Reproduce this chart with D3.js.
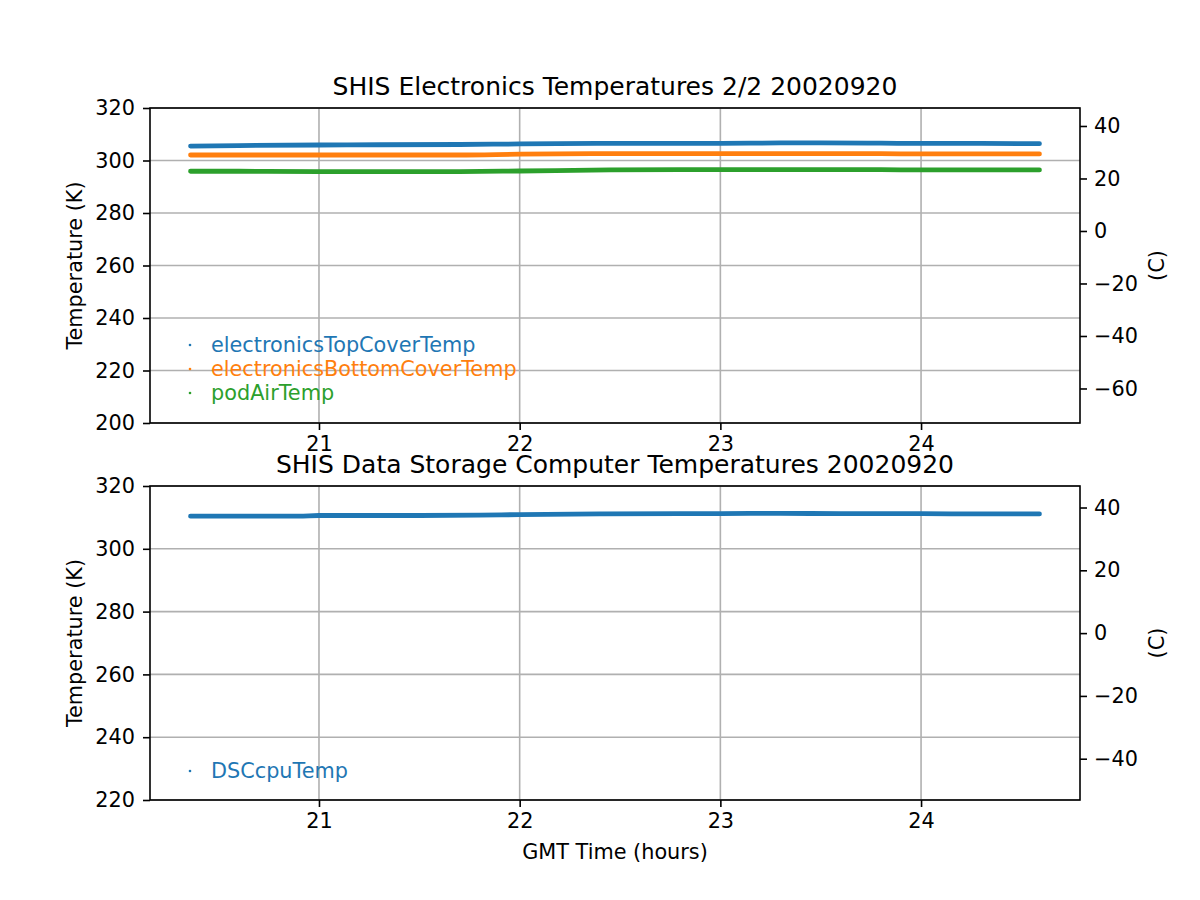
<!DOCTYPE html>
<html><head><meta charset="utf-8">
<script src="https://d3js.org/d3.v7.min.js"></script>
<style>body{margin:0;background:#fff}svg{display:block}text{font-family:"DejaVu Sans",sans-serif}</style>
</head><body>
<svg id="c" width="1200" height="900"></svg>
<script>
// ---- data ----
const topTitle = "SHIS Electronics Temperatures 2/2 20020920";
const botTitle = "SHIS Data Storage Computer Temperatures 20020920";
const xTicks = [21, 22, 23, 24];
const topKTicks = [200, 220, 240, 260, 280, 300, 320];
const topCTicks = [-60, -40, -20, 0, 20, 40];
const botKTicks = [220, 240, 260, 280, 300, 320];
const botCTicks = [-40, -20, 0, 20, 40];
const hours = [20.36, 20.6, 21.0, 21.3, 21.7, 22.0, 22.45, 22.8, 23.0, 23.3, 23.5, 23.8, 24.0, 24.3, 24.59];
const topCover    = [305.5, 305.7, 305.9, 306.0, 306.1, 306.3, 306.5, 306.5, 306.5, 306.7, 306.7, 306.6, 306.5, 306.5, 306.4];
const bottomCover = [302.1, 302.1, 302.1, 302.1, 302.1, 302.4, 302.6, 302.6, 302.6, 302.6, 302.6, 302.6, 302.5, 302.5, 302.5];
const podAir      = [295.9, 295.9, 295.8, 295.8, 295.8, 296.0, 296.4, 296.5, 296.5, 296.5, 296.5, 296.5, 296.4, 296.4, 296.4];
const dscHours = [20.36, 20.6, 20.9, 21.0, 21.5, 21.8, 22.0, 22.4, 22.8, 23.0, 23.3, 23.6, 24.0, 24.3, 24.59];
const dscCpu   = [310.4, 310.4, 310.4, 310.6, 310.6, 310.7, 310.9, 311.1, 311.2, 311.2, 311.3, 311.2, 311.2, 311.1, 311.1];
const topSeries = [
  {name: "electronicsTopCoverTemp", color: "#1f77b4", x: hours, y: topCover},
  {name: "electronicsBottomCoverTemp", color: "#ff7f0e", x: hours, y: bottomCover},
  {name: "podAirTemp", color: "#2ca02c", x: hours, y: podAir}
];
const botSeries = [
  {name: "DSCcpuTemp", color: "#1f77b4", x: dscHours, y: dscCpu}
];

const FS = 20.8;
const svg = d3.select("#c");
const L = 150, R = 1080;
const x = d3.scaleLinear().domain([20.158, 24.792]).range([L, R]);
const fmt = d => d < 0 ? "\u2212" + Math.abs(d) : String(d);

function panel(top, bottom, kDom, kTicks, cTicks, series, title, legendY) {
  const yK = d3.scaleLinear().domain(kDom).range([bottom, top]);
  const yC = d3.scaleLinear().domain([kDom[0] - 273.15, kDom[1] - 273.15]).range([bottom, top]);
  const g = svg.append("g");
  // grid
  g.selectAll(".gx").data(xTicks).enter().append("line")
    .attr("x1", d => x(d)).attr("x2", d => x(d)).attr("y1", top).attr("y2", bottom)
    .attr("stroke", "#b0b0b0").attr("stroke-width", 1.6);
  g.selectAll(".gy").data(kTicks).enter().append("line")
    .attr("x1", L).attr("x2", R).attr("y1", d => yK(d)).attr("y2", d => yK(d))
    .attr("stroke", "#b0b0b0").attr("stroke-width", 1.6);
  // data
  const line = d3.line().x(d => x(d[0])).y(d => yK(d[1])).curve(d3.curveMonotoneX);
  series.forEach(s => {
    const pts = s.x.map((h, i) => [h, s.y[i]]);
    g.append("path").attr("d", line(pts)).attr("fill", "none")
      .attr("stroke", s.color).attr("stroke-width", 4.8).attr("stroke-linecap", "round");
  });
  // axes
  const ax = g.append("g").attr("transform", `translate(0,${bottom})`)
    .call(d3.axisBottom(x).tickValues(xTicks).tickSize(7).tickPadding(6).tickFormat(d3.format("d")));
  const ayl = g.append("g").attr("transform", `translate(${L},0)`)
    .call(d3.axisLeft(yK).tickValues(kTicks).tickSize(7).tickPadding(8).tickFormat(d3.format("d")));
  const ayr = g.append("g").attr("transform", `translate(${R},0)`)
    .call(d3.axisRight(yC).tickValues(cTicks).tickSize(7).tickPadding(7).tickFormat(fmt));
  [ax, ayl, ayr].forEach(a => {
    a.select(".domain").remove();
    a.selectAll("line").attr("stroke", "#000").attr("stroke-width", 1.6);
    a.selectAll("text").attr("font-size", FS).attr("fill", "#000").attr("font-family", "DejaVu Sans");
  });
  // frame
  g.append("rect").attr("x", L).attr("y", top).attr("width", R - L).attr("height", bottom - top)
    .attr("fill", "none").attr("stroke", "#000").attr("stroke-width", 1.6);
  // title
  g.append("text").attr("x", (L + R) / 2).attr("y", top - 13).attr("text-anchor", "middle")
    .attr("font-size", 25).text(title);
  // y labels
  const mid = (top + bottom) / 2;
  g.append("text").attr("transform", `translate(82,${mid}) rotate(-90)`).attr("text-anchor", "middle")
    .attr("font-size", FS).text("Temperature (K)");
  g.append("text").attr("transform", `translate(1164,${mid}) rotate(-90)`).attr("text-anchor", "middle")
    .attr("font-size", FS).text("(C)");
  // legend
  series.forEach((s, i) => {
    const cy = legendY + i * 24;
    g.append("circle").attr("cx", 190).attr("cy", cy).attr("r", 1.3).attr("fill", s.color);
    g.append("text").attr("x", 211).attr("y", cy + 7).attr("font-size", FS).attr("fill", s.color).text(s.name);
  });
}

panel(108, 423, [200, 320], topKTicks, topCTicks, topSeries, topTitle, 345);
panel(486, 800, [220, 320], botKTicks, botCTicks, botSeries, botTitle, 771);

svg.append("text").attr("x", 615).attr("y", 859).attr("text-anchor", "middle")
  .attr("font-size", FS).text("GMT Time (hours)");
</script>
</body></html>
